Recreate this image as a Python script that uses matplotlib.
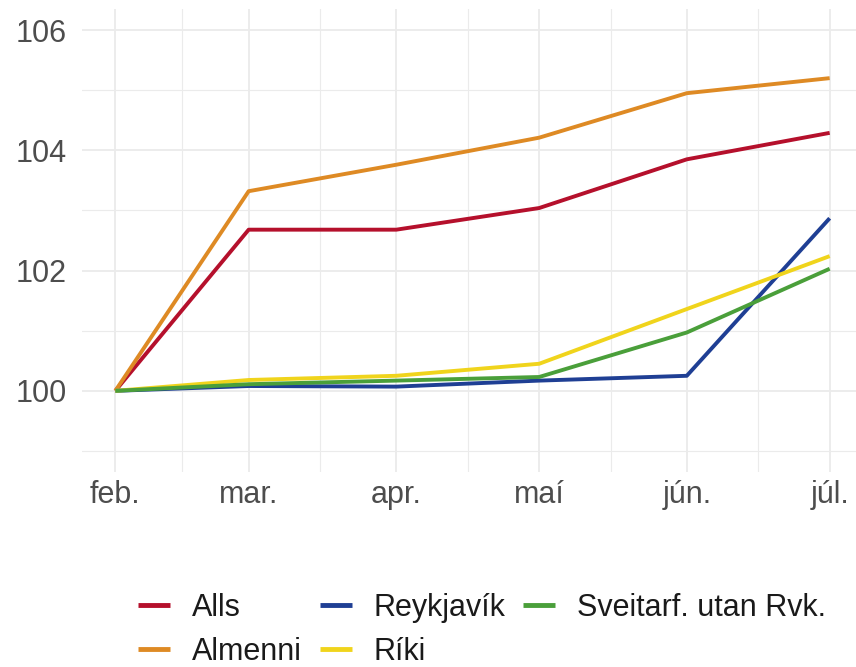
import datetime as dt
import matplotlib
matplotlib.use('Agg')
import matplotlib.pyplot as plt

plt.rcParams['font.family'] = ['Liberation Sans', 'DejaVu Sans']

months = [dt.date(2023, m, 1) for m in range(2, 8)]
month_labels = ['feb.', 'mar.', 'apr.', 'maí', 'jún.', 'júl.']

alls = [100.0, 102.68, 102.68, 103.04, 103.85, 104.29]
almenni = [100.0, 103.32, 103.76, 104.21, 104.95, 105.20]
reykjavik = [100.0, 100.08, 100.07, 100.17, 100.25, 102.87]
riki = [100.0, 100.18, 100.25, 100.45, 101.36, 102.24]
sveitarf = [100.0, 100.11, 100.17, 100.23, 100.97, 102.03]

series = [
    ('Alls', alls, '#b5102c'),
    ('Almenni', almenni, '#de8a24'),
    ('Reykjavík', reykjavik, '#1f3f94'),
    ('Ríki', riki, '#f0d41c'),
    ('Sveitarf. utan Rvk.', sveitarf, '#4a9f3a'),
]

fig = plt.figure(figsize=(8.56, 6.67), dpi=100)
ax = fig.add_axes([82 / 856, 195 / 667, 781 / 856, 463 / 667])

for name, vals, col in series:
    ax.plot(months, vals, color=col, lw=2.8, label=name, solid_capstyle='butt')

pad = dt.timedelta(days=7.5)
ax.set_xlim(months[0] - pad, months[-1] + pad)
ax.set_ylim(98.65, 106.35)

ax.set_xticks(months)
ax.set_xticklabels(month_labels)
mids = [months[i] + (months[i + 1] - months[i]) / 2 for i in range(len(months) - 1)]
ax.set_xticks(mids, minor=True)
ax.set_yticks([100, 102, 104, 106])
ax.set_yticks([99, 101, 103, 105], minor=True)

ax.grid(True, which='major', color='#ebebeb', lw=1.3)
ax.grid(True, which='minor', color='#ebebeb', lw=0.8)
ax.set_axisbelow(True)
for s in ax.spines.values():
    s.set_visible(False)
ax.tick_params(which='both', length=0)
ax.tick_params(axis='y', labelsize=22, labelcolor='#4d4d4d', pad=11)
ax.tick_params(axis='x', labelsize=22, labelcolor='#4d4d4d', pad=6)

leg = fig.legend(loc='center', bbox_to_anchor=(0.563, 0.0555), ncol=3, frameon=False,
                 fontsize=22, handlelength=1.05, handletextpad=0.7, columnspacing=0.6,
                 labelspacing=0.45, borderpad=0, labelcolor='#1a1a1a')
for h in leg.legend_handles:
    h.set_linewidth(3.5)

fig.savefig('out.png', dpi=100)
